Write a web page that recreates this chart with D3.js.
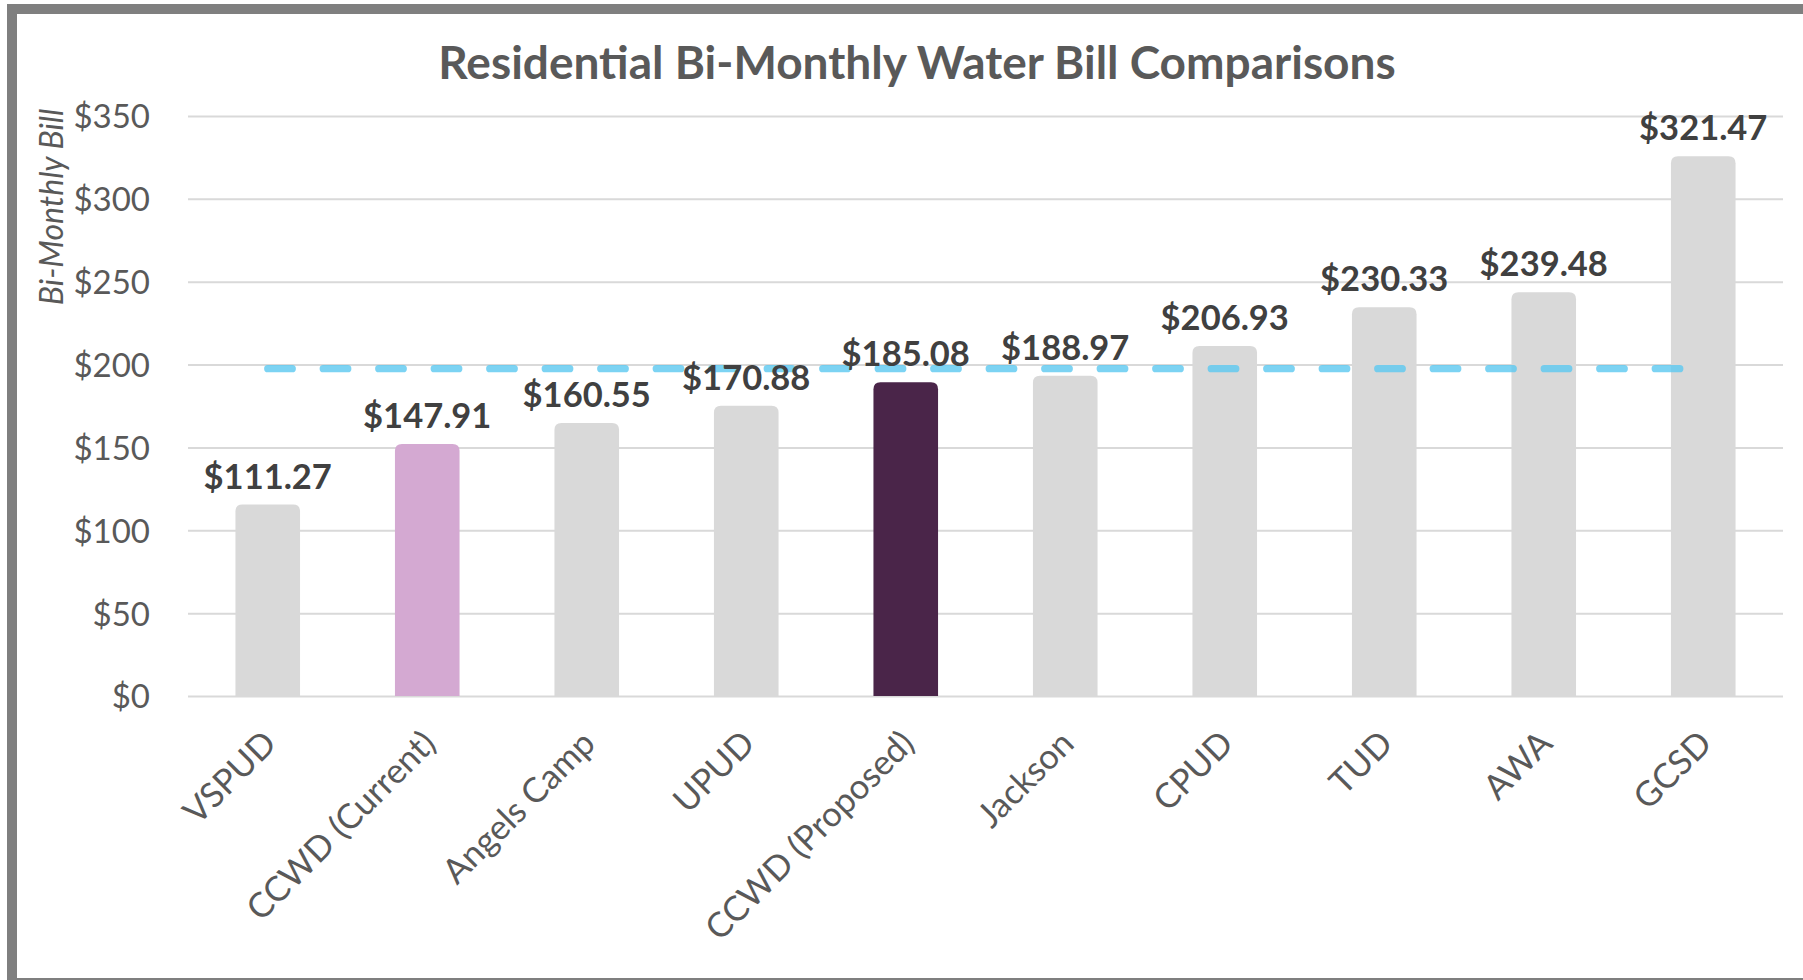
<!DOCTYPE html>
<html>
<head>
<meta charset="utf-8">
<script src="https://cdn.jsdelivr.net/npm/d3@7"></script>
<style>
  body { margin: 0; background: #fff; }
  text { font-family: Lato, "Open Sans", sans-serif; }
</style>
</head>
<body>
<svg id="chart"></svg>
<script>
const categories = [
  "VSPUD",
  "CCWD (Current)",
  "Angels Camp",
  "UPUD",
  "CCWD (Proposed)",
  "Jackson",
  "CPUD",
  "TUD",
  "AWA",
  "GCSD",
];
const bills = [111.27, 147.91, 160.55, 170.88, 185.08, 188.97, 206.93, 230.33, 239.48, 321.47];
const yTicks = [0, 50, 100, 150, 200, 250, 300, 350];
const averageBill = 197.5;
const chartTitle = "Residential Bi-Monthly Water Bill Comparisons";
const yTitle = "Bi-Monthly Bill";

var margin = { top: 116, right: 20, bottom: 284, left: 188 },
  width = 1803 - margin.left - margin.right,
  height = 980 - margin.top - margin.bottom;

// highlighted bars, everything else is grey
const barColor = { "CCWD (Current)": "#d4a9d2", "CCWD (Proposed)": "#4a2549" };
const capR = 7;

const svg = d3
  .select("#chart")
  .attr("width", width + margin.left + margin.right)
  .attr("height", height + margin.top + margin.bottom);

// frame (chart is cropped on the right)
svg
  .append("rect")
  .attr("x", 12)
  .attr("y", 9)
  .attr("width", 1820)
  .attr("height", 974)
  .attr("fill", "none")
  .attr("stroke", "#7f7f7f")
  .attr("stroke-width", 10);

svg
  .append("text")
  .attr("x", 917)
  .attr("y", 79)
  .attr("text-anchor", "middle")
  .attr("font-size", "46px")
  .attr("font-weight", "bold")
  .attr("fill", "#595959")
  .text(chartTitle);

svg
  .append("text")
  .attr("transform", "translate(63, 207) rotate(-90)")
  .attr("text-anchor", "middle")
  .attr("font-size", "32px")
  .attr("font-style", "italic")
  .attr("fill", "#595959")
  .text(yTitle);

const g = svg.append("g").attr("transform", `translate(${margin.left}, ${margin.top})`);

const data = categories.map((c, i) => ({ name: c, value: bills[i] }));

const x = d3.scaleBand().domain(categories).range([0, width]).paddingInner(0.595).paddingOuter(0.2975);
const y = d3.scaleLinear().domain([0, 350]).range([height, 0]);

// gridlines + y labels
const yAxis = g
  .append("g")
  .call(d3.axisLeft(y).tickValues(yTicks).tickSize(-width).tickPadding(38).tickFormat((d) => "$" + d));
yAxis.select(".domain").remove();
yAxis.selectAll(".tick line").attr("stroke", "#d9d9d9").attr("stroke-width", 2);
yAxis
  .selectAll(".tick text")
  .attr("font-size", "33px")
  .attr("font-family", "Lato, sans-serif")
  .attr("fill", "#595959")
  .attr("dy", "0.36em");

// x labels
const xAxis = g
  .append("g")
  .attr("transform", `translate(0, ${height})`)
  .call(d3.axisBottom(x).tickSize(0).tickPadding(0));
xAxis.select(".domain").remove();
xAxis
  .selectAll(".tick text")
  .attr("font-size", "34.5px")
  .attr("font-family", "Lato, sans-serif")
  .attr("fill", "#595959")
  .attr("text-anchor", "end")
  .attr("dy", "0.35em")
  .attr("y", 0)
  .attr("transform", "translate(2, 41) rotate(-45)");

function barPath(d) {
  const x0 = x(d.name),
    w = x.bandwidth(),
    top = y(d.value) - capR,
    bot = y(0);
  return `M${x0},${bot}V${top + capR}Q${x0},${top} ${x0 + capR},${top}H${x0 + w - capR}Q${x0 + w},${top} ${x0 + w},${top + capR}V${bot}Z`;
}

g.append("g")
  .selectAll("path")
  .data(data)
  .join("path")
  .attr("d", barPath)
  .attr("fill", (d) => barColor[d.name] || "#d9d9d9");

// average line
g.append("line")
  .attr("x1", x(categories[0]) + x.bandwidth() / 2)
  .attr("x2", x(categories[categories.length - 1]) + x.bandwidth() / 2)
  .attr("y1", y(averageBill))
  .attr("y2", y(averageBill))
  .attr("stroke", "#5bc8f0")
  .attr("stroke-opacity", 0.8)
  .attr("stroke-width", 7.3)
  .attr("stroke-linecap", "round")
  .attr("stroke-dasharray", "24.5 31");

// value labels
g.append("g")
  .selectAll("text")
  .data(data)
  .join("text")
  .attr("x", (d) => x(d.name) + x.bandwidth() / 2)
  .attr("y", (d) => y(d.value) - capR - 16)
  .attr("text-anchor", "middle")
  .attr("font-size", "34.5px")
  .attr("font-weight", "bold")
  .attr("fill", "#404040")
  .text((d) => "$" + d.value.toFixed(2));
</script>
</body>
</html>
